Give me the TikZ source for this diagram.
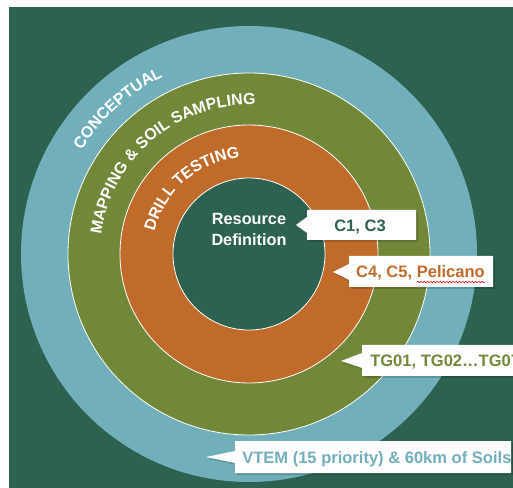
\documentclass[tikz,border=0pt]{standalone}
\usepackage{fontspec}
\setmainfont{Liberation Sans}
\usetikzlibrary{decorations.text,decorations.pathmorphing}

\definecolor{deepgreen}{HTML}{2D6150}
\definecolor{ringblue}{HTML}{71AFBB}
\definecolor{ringgreen}{HTML}{708837}
\definecolor{ringorange}{HTML}{C06B2A}
\definecolor{squiggle}{HTML}{E02424}

\newcommand\ringfont{\bfseries\fontsize{12}{13}\selectfont}
\newcommand\tagfont{\bfseries\fontsize{12.4}{14}\selectfont}
% callout outline: left, top, right, bottom, tip x, tip y, notch top, notch bottom
\newcommand\calloutoutline[8]{(#1,#2) -- (#3,#2) -- (#3,#4) -- (#1,#4) -- (#1,#8) -- (#5,#6) -- (#1,#7) -- cycle}

\begin{document}
\begin{tikzpicture}[x=0.75pt,y=0.75pt,
  ring/.style={draw=white, line width=0.6pt},
  ringtitle/.style={decorate, decoration={text along path, text align=center, text={#1}}},
  calloutshade/.style={fill=black, opacity=0.16, shift={(2,-2)}},
  calloutbody/.style={fill=white},
  tag/.style={font=\tagfont, inner sep=0pt}]

\useasboundingbox (-249,-234) rectangle (264,254);
\clip (-249,-234) rectangle (264,254);
\fill[white] (-249,-234) rectangle (264,254);
\fill[deepgreen] (-240,-234) rectangle (264,247);

% concentric stages
\fill[ringblue] (0,0) circle[radius=228];
\filldraw[ring, fill=ringgreen] (0,0) circle[radius=181];
\filldraw[ring, fill=ringorange] (0,0) circle[radius=129];
\filldraw[ring, fill=deepgreen] (0,0) circle[radius=76];

% stage titles set along the rings
\path[ringtitle={|\ringfont\color{white}|CONCEPTUAL}]
  (202:197) arc[start angle=202, end angle=62, radius=197];
\path[ringtitle={|\ringfont\color{white}|MAPPING {\&} SOIL SAMPLING}]
  (200:149) arc[start angle=200, end angle=60, radius=149];
\path[ringtitle={|\ringfont\color{white}|DRILL TESTING}]
  (201:97) arc[start angle=201, end angle=61, radius=97];

\node[font=\bfseries\fontsize{12.2}{15.75}\selectfont, text=white,
      align=center, inner sep=0pt] (core) at (0,25) {Resource\\Definition};

% callouts: shadow first, then the white body
\fill[calloutshade] \calloutoutline{58}{44}{167}{14}{47}{29}{37}{21};
\fill[calloutbody]  \calloutoutline{58}{44}{167}{14}{47}{29}{37}{21};
\fill[calloutshade] \calloutoutline{100}{-2}{244}{-33}{84}{-18}{-10}{-26};
\fill[calloutbody]  \calloutoutline{100}{-2}{244}{-33}{84}{-18}{-10}{-26};
\fill[calloutshade] \calloutoutline{113}{-91}{290}{-122}{92}{-107}{-99}{-114};
\fill[calloutbody]  \calloutoutline{113}{-91}{290}{-122}{92}{-107}{-99}{-114};
\fill[calloutshade] \calloutoutline{-14}{-187}{262}{-219}{-43}{-203}{-197}{-209};
\fill[calloutbody]  \calloutoutline{-14}{-187}{262}{-219}{-43}{-203}{-197}{-209};

\node[tag, text=deepgreen, anchor=base] (tagC) at (111,22) {C1, C3};
\node[tag, text=ringorange, anchor=base] (tagP) at (171.5,-24) {C4, C5, Pelicano};
\draw[squiggle, line width=0.5pt, decorate,
      decoration={snake, amplitude=0.6pt, segment length=2.4pt}]
  (168,-28) -- (236,-28);
\node[tag, text=ringgreen, anchor=base west] (tagT) at (121,-112.5) {TG01, TG02…TG07};
\node[tag, text=ringblue, anchor=base west] (tagV) at (-7,-209) {VTEM (15 priority) \& 60km of Soils};
\end{tikzpicture}
\end{document}
